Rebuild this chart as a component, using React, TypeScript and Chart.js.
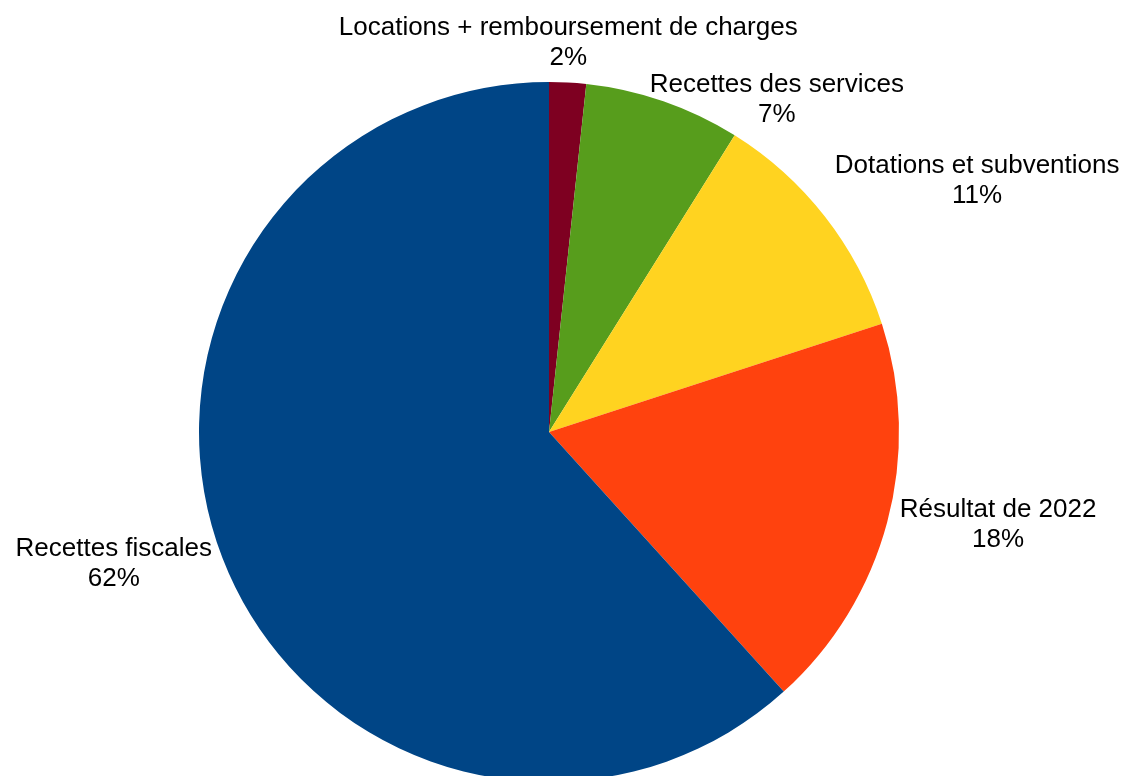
import React, { useEffect, useRef } from "react";
import { Chart, registerables } from "chart.js";

Chart.register(...registerables);

const categories = [
  "Locations + remboursement de charges",
  "Recettes des services",
  "Dotations et subventions",
  "Résultat de 2022",
  "Recettes fiscales",
];
const values = [1.7, 7.2, 11.1, 18.3, 61.7];
const percentLabels = ["2%", "7%", "11%", "18%", "62%"];
const colors = ["#7E0021", "#579D1C", "#FFD320", "#FF420E", "#004586"];

// label placement hints relative to each slice's mid-angle anchor
const labelLayout = [
  { h: "center", v: "bottom", dx: 0, dy: 0 },
  { h: "left", v: "middle", dx: -17, dy: 8 },
  { h: "left", v: "bottom", dx: 2, dy: 0 },
  { h: "left", v: "middle", dx: 3, dy: 0 },
  { h: "right", v: "middle", dx: -1, dy: 2 },
];

const FONT = '26px "Liberation Sans", Arial, sans-serif';
const LINE_H = 30;
const GAP = 10;

const outsideLabels = {
  id: "outsideLabels",
  afterDatasetsDraw(chart: any) {
    const ctx = chart.ctx;
    const meta = chart.getDatasetMeta(0);
    ctx.save();
    ctx.font = FONT;
    ctx.fillStyle = "#000000";
    ctx.textBaseline = "middle";
    ctx.textAlign = "center";
    meta.data.forEach((arc: any, i: number) => {
      const p = arc.getProps(["x", "y", "startAngle", "endAngle", "outerRadius"], true);
      const mid = (p.startAngle + p.endAngle) / 2;
      const r = p.outerRadius + GAP;
      const ax = p.x + Math.cos(mid) * r + labelLayout[i].dx;
      const ay = p.y + Math.sin(mid) * r + labelLayout[i].dy;
      const l1 = categories[i];
      const l2 = percentLabels[i];
      const w = Math.max(ctx.measureText(l1).width, ctx.measureText(l2).width);
      const boxH = LINE_H * 2;
      let cx = ax;
      if (labelLayout[i].h === "left") cx = ax + w / 2;
      else if (labelLayout[i].h === "right") cx = ax - w / 2;
      let top = ay - boxH / 2;
      if (labelLayout[i].v === "bottom") top = ay - boxH;
      else if (labelLayout[i].v === "top") top = ay;
      ctx.fillText(l1, cx, top + LINE_H / 2);
      ctx.fillText(l2, cx, top + LINE_H * 1.5);
    });
    ctx.restore();
  },
};

export default function App() {
  const ref = useRef<HTMLCanvasElement>(null);
  useEffect(() => {
    document.body.style.margin = "0";
    const chart = new Chart(ref.current as HTMLCanvasElement, {
      type: "pie",
      data: {
        labels: categories,
        datasets: [
          {
            data: values,
            backgroundColor: colors,
            borderWidth: 0,
          },
        ],
      },
      options: {
        responsive: false,
        animation: false,
        devicePixelRatio: 1,
        layout: { padding: { left: 199, right: 227, top: 82, bottom: 8 } },
        plugins: {
          legend: { display: false },
          tooltip: { enabled: false },
        },
      },
      plugins: [outsideLabels],
    });
    return () => chart.destroy();
  }, []);
  return (
    <div
      style={{
        position: "fixed",
        left: 0,
        top: 0,
        width: 1126,
        height: 776,
        overflow: "hidden",
        background: "#ffffff",
      }}
    >
      <canvas ref={ref} width={1126} height={790} style={{ display: "block" }} />
    </div>
  );
}
